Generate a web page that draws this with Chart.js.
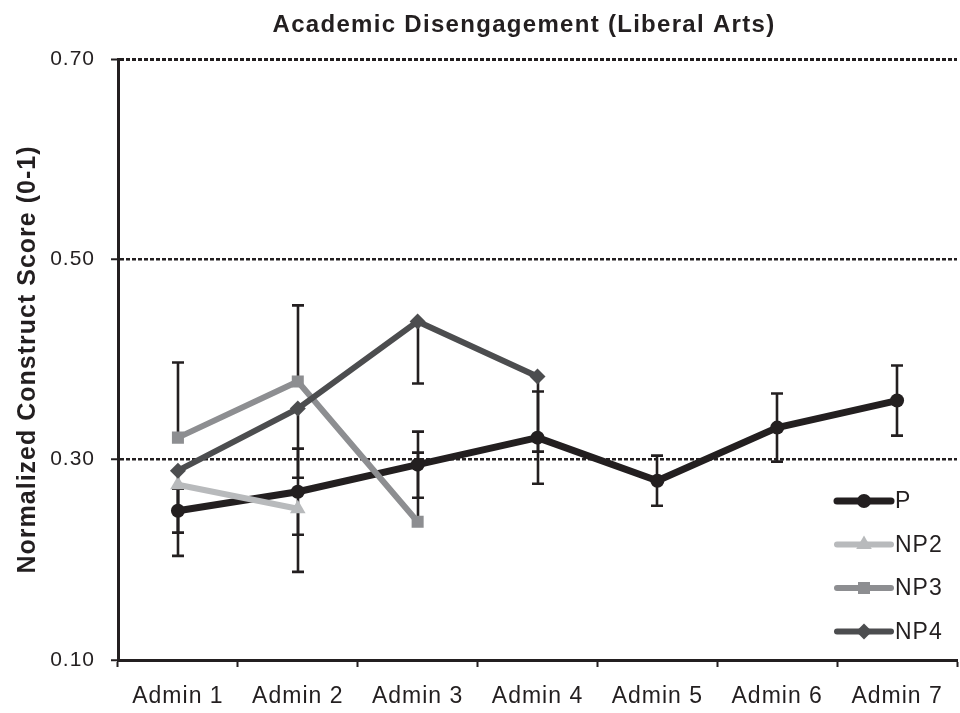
<!DOCTYPE html>
<html>
<head>
<meta charset="utf-8">
<script src="https://cdn.jsdelivr.net/npm/chart.js@4/dist/chart.umd.min.js"></script>
<style>
  html, body { margin: 0; padding: 0; background: #ffffff; overflow: hidden; }
  #wrap { width: 966px; height: 713px; }
</style>
</head>
<body>
<div id="wrap"><canvas id="chart"></canvas></div>
<script>
// Administrations along the x axis
const categories = ['Admin 1', 'Admin 2', 'Admin 3', 'Admin 4', 'Admin 5', 'Admin 6', 'Admin 7'];
const yTicks = [0.10, 0.30, 0.50, 0.70];
const chartTitle = 'Academic Disengagement (Liberal Arts)';

// Mean normalized construct scores per group
const valuesP   = [0.249, 0.268, 0.295, 0.322, 0.279, 0.332, 0.359];
const valuesNP2 = [0.275, 0.251, null, null, null, null, null];
const valuesNP3 = [0.322, 0.378, 0.238, null, null, null, null];
const valuesNP4 = [0.289, 0.351, 0.438, 0.383, null, null, null];

// Error bar half-lengths (P both ways, NP2/NP4 downward, NP3 upward)
const errP   = [0.022, 0.043, 0.033, 0.046, 0.025, 0.034, 0.035];
const errNP2 = [0.071, 0.063, null, null, null, null, null];
const errNP3 = [0.075, 0.076, 0.069, null, null, null, null];
const errNP4 = [0.062, 0.069, 0.062, 0.075, null, null, null];

const INK = '#231f20';
const FONT = '"Liberation Sans", Arial, Helvetica, sans-serif';

function drawMarker(ctx, style, x, y, r) {
  ctx.beginPath();
  if (style === 'circle') {
    ctx.arc(x, y, r, 0, Math.PI * 2);
  } else if (style === 'triangle') {
    for (let k = 0; k < 3; k++) {
      const a = k * 2 * Math.PI / 3;
      const px = x + Math.sin(a) * r, py = y - Math.cos(a) * r;
      k === 0 ? ctx.moveTo(px, py) : ctx.lineTo(px, py);
    }
    ctx.closePath();
  } else if (style === 'rect') {
    const s = Math.SQRT1_2 * r;
    ctx.rect(x - s, y - s, 2 * s, 2 * s);
  } else if (style === 'rectRot') {
    ctx.moveTo(x - r, y); ctx.lineTo(x, y - r); ctx.lineTo(x + r, y); ctx.lineTo(x, y + r);
    ctx.closePath();
  }
  ctx.fill();
}

// Slightly wider text spacing for every label on the canvas
const textSpacing = {
  id: 'textSpacing',
  beforeLayout(chart) { chart.ctx.letterSpacing = '1px'; },
  beforeDraw(chart) { chart.ctx.letterSpacing = '1px'; }
};

// Chart heading, centred a little right of the canvas middle over the plot
const plotHeading = {
  id: 'plotHeading',
  afterDraw(chart, args, opts) {
    const ctx = chart.ctx;
    ctx.save();
    ctx.letterSpacing = '1.3px';
    ctx.font = 'bold 24px ' + FONT;
    ctx.fillStyle = INK;
    ctx.textAlign = 'center';
    ctx.textBaseline = 'middle';
    const cx = (chart.width + chart.chartArea.left) / 2 + opts.shift;
    ctx.fillText(chartTitle, cx, opts.y);
    ctx.restore();
  }
};

// Vertical error bars with end caps
const errorBars = {
  id: 'errorBars',
  beforeDatasetsDraw(chart) {
    const ctx = chart.ctx;
    const yScale = chart.scales.y;
    ctx.save();
    ctx.strokeStyle = INK;
    ctx.lineWidth = 2.6;
    ctx.setLineDash([]);
    chart.data.datasets.forEach((ds, di) => {
      if (!ds.errorValues) return;
      const meta = chart.getDatasetMeta(di);
      ds.data.forEach((v, i) => {
        const e = ds.errorValues[i];
        if (v == null || e == null) return;
        const x = Math.round(meta.data[i].x);
        const up = ds.errorDir !== 'minus';
        const down = ds.errorDir !== 'plus';
        const yTop = yScale.getPixelForValue(up ? v + e : v);
        const yBot = yScale.getPixelForValue(down ? v - e : v);
        ctx.beginPath();
        ctx.moveTo(x, yTop); ctx.lineTo(x, yBot);
        if (up) { ctx.moveTo(x - 6, yTop); ctx.lineTo(x + 6, yTop); }
        if (down) { ctx.moveTo(x - 6, yBot); ctx.lineTo(x + 6, yBot); }
        ctx.stroke();
      });
    });
    ctx.restore();
  }
};

// Legend placed inside the plot, lower right
const insideLegend = {
  id: 'insideLegend',
  afterDraw(chart, args, opts) {
    const ctx = chart.ctx;
    const area = chart.chartArea;
    ctx.save();
    ctx.letterSpacing = '1px';
    ctx.font = '23px ' + FONT;
    ctx.textBaseline = 'middle';
    ctx.textAlign = 'left';
    chart.data.datasets.forEach((ds, i) => {
      const y = area.bottom - opts.fromBottom + i * opts.rowGap;
      const x0 = area.right - opts.fromRight;
      const x1 = x0 + opts.lineLength;
      ctx.strokeStyle = ds.borderColor;
      ctx.lineWidth = ds.borderWidth;
      ctx.lineCap = 'round';
      ctx.beginPath(); ctx.moveTo(x0, y); ctx.lineTo(x1, y); ctx.stroke();
      ctx.fillStyle = ds.borderColor;
      drawMarker(ctx, ds.pointStyle, (x0 + x1) / 2, y, ds.pointRadius);
      ctx.fillStyle = INK;
      ctx.fillText(ds.label, x1 + 4, y + 1);
    });
    ctx.restore();
  }
};

function series(label, data, color, width, style, radius, order, err, dir) {
  return {
    label, data,
    borderColor: color, backgroundColor: color,
    borderWidth: width, borderJoinStyle: 'round',
    pointStyle: style, pointRadius: radius, pointHoverRadius: radius,
    pointBackgroundColor: color, pointBorderColor: color, pointBorderWidth: 0,
    spanGaps: false, tension: 0, order,
    errorValues: err, errorDir: dir
  };
}

new Chart(document.getElementById('chart'), {
  type: 'line',
  data: {
    labels: categories,
    datasets: [
      series('P',   valuesP,   '#231f20', 7, 'circle',   7,   4, errP,   'both'),
      series('NP2', valuesNP2, '#b8babc', 6, 'triangle', 9,   3, errNP2, 'minus'),
      series('NP3', valuesNP3, '#8d8e91', 6, 'rect',     8.5, 2, errNP3, 'plus'),
      series('NP4', valuesNP4, '#4c4d4f', 6, 'rectRot',  8,   1, errNP4, 'minus')
    ]
  },
  options: {
    responsive: true,
    maintainAspectRatio: false,
    animation: false,
    events: [],
    layout: { padding: { left: 0, right: 1, top: 59, bottom: 0 } },
    plugins: {
      legend: { display: false },
      tooltip: { enabled: false },
      title: { display: false },
      plotHeading: { y: 25, shift: -18 },
      insideLegend: { fromRight: 120, fromBottom: 159, rowGap: 43.5, lineLength: 54 }
    },
    scales: {
      x: {
        type: 'category',
        offset: true,
        grid: {
          display: true, offset: true, drawOnChartArea: false, drawTicks: true,
          tickLength: 7, tickWidth: 2, tickColor: INK, tickBorderDash: []
        },
        border: { display: true, color: INK, width: 3 },
        ticks: {
          color: INK, font: { family: FONT, size: 23 }, padding: 16,
          maxRotation: 0, autoSkip: false
        },
        afterFit(s) { s.height = 53; }
      },
      y: {
        min: 0.10,
        max: 0.70,
        afterBuildTicks(s) { s.ticks = yTicks.map(v => ({ value: v })); },
        grid: {
          color: INK,
          lineWidth: (c) => (c.tick && c.tick.value === 0.70 ? 3 : 2.5),
          drawTicks: true, tickLength: 7, tickWidth: 2, tickColor: INK, tickBorderDash: []
        },
        border: { display: true, color: INK, width: 3, dash: [4, 2] },
        ticks: {
          color: INK, font: { family: FONT, size: 21 }, padding: 16,
          callback: (v) => Number(v).toFixed(2)
        },
        title: {
          display: true,
          text: 'Normalized Construct Score (0-1)',
          color: INK,
          font: { family: FONT, size: 25, weight: 'bold' },
          padding: { top: 13, bottom: 0 }
        },
        afterFit(s) { s.width = 118; }
      }
    }
  },
  plugins: [textSpacing, errorBars, insideLegend, plotHeading]
});
</script>
</body>
</html>
